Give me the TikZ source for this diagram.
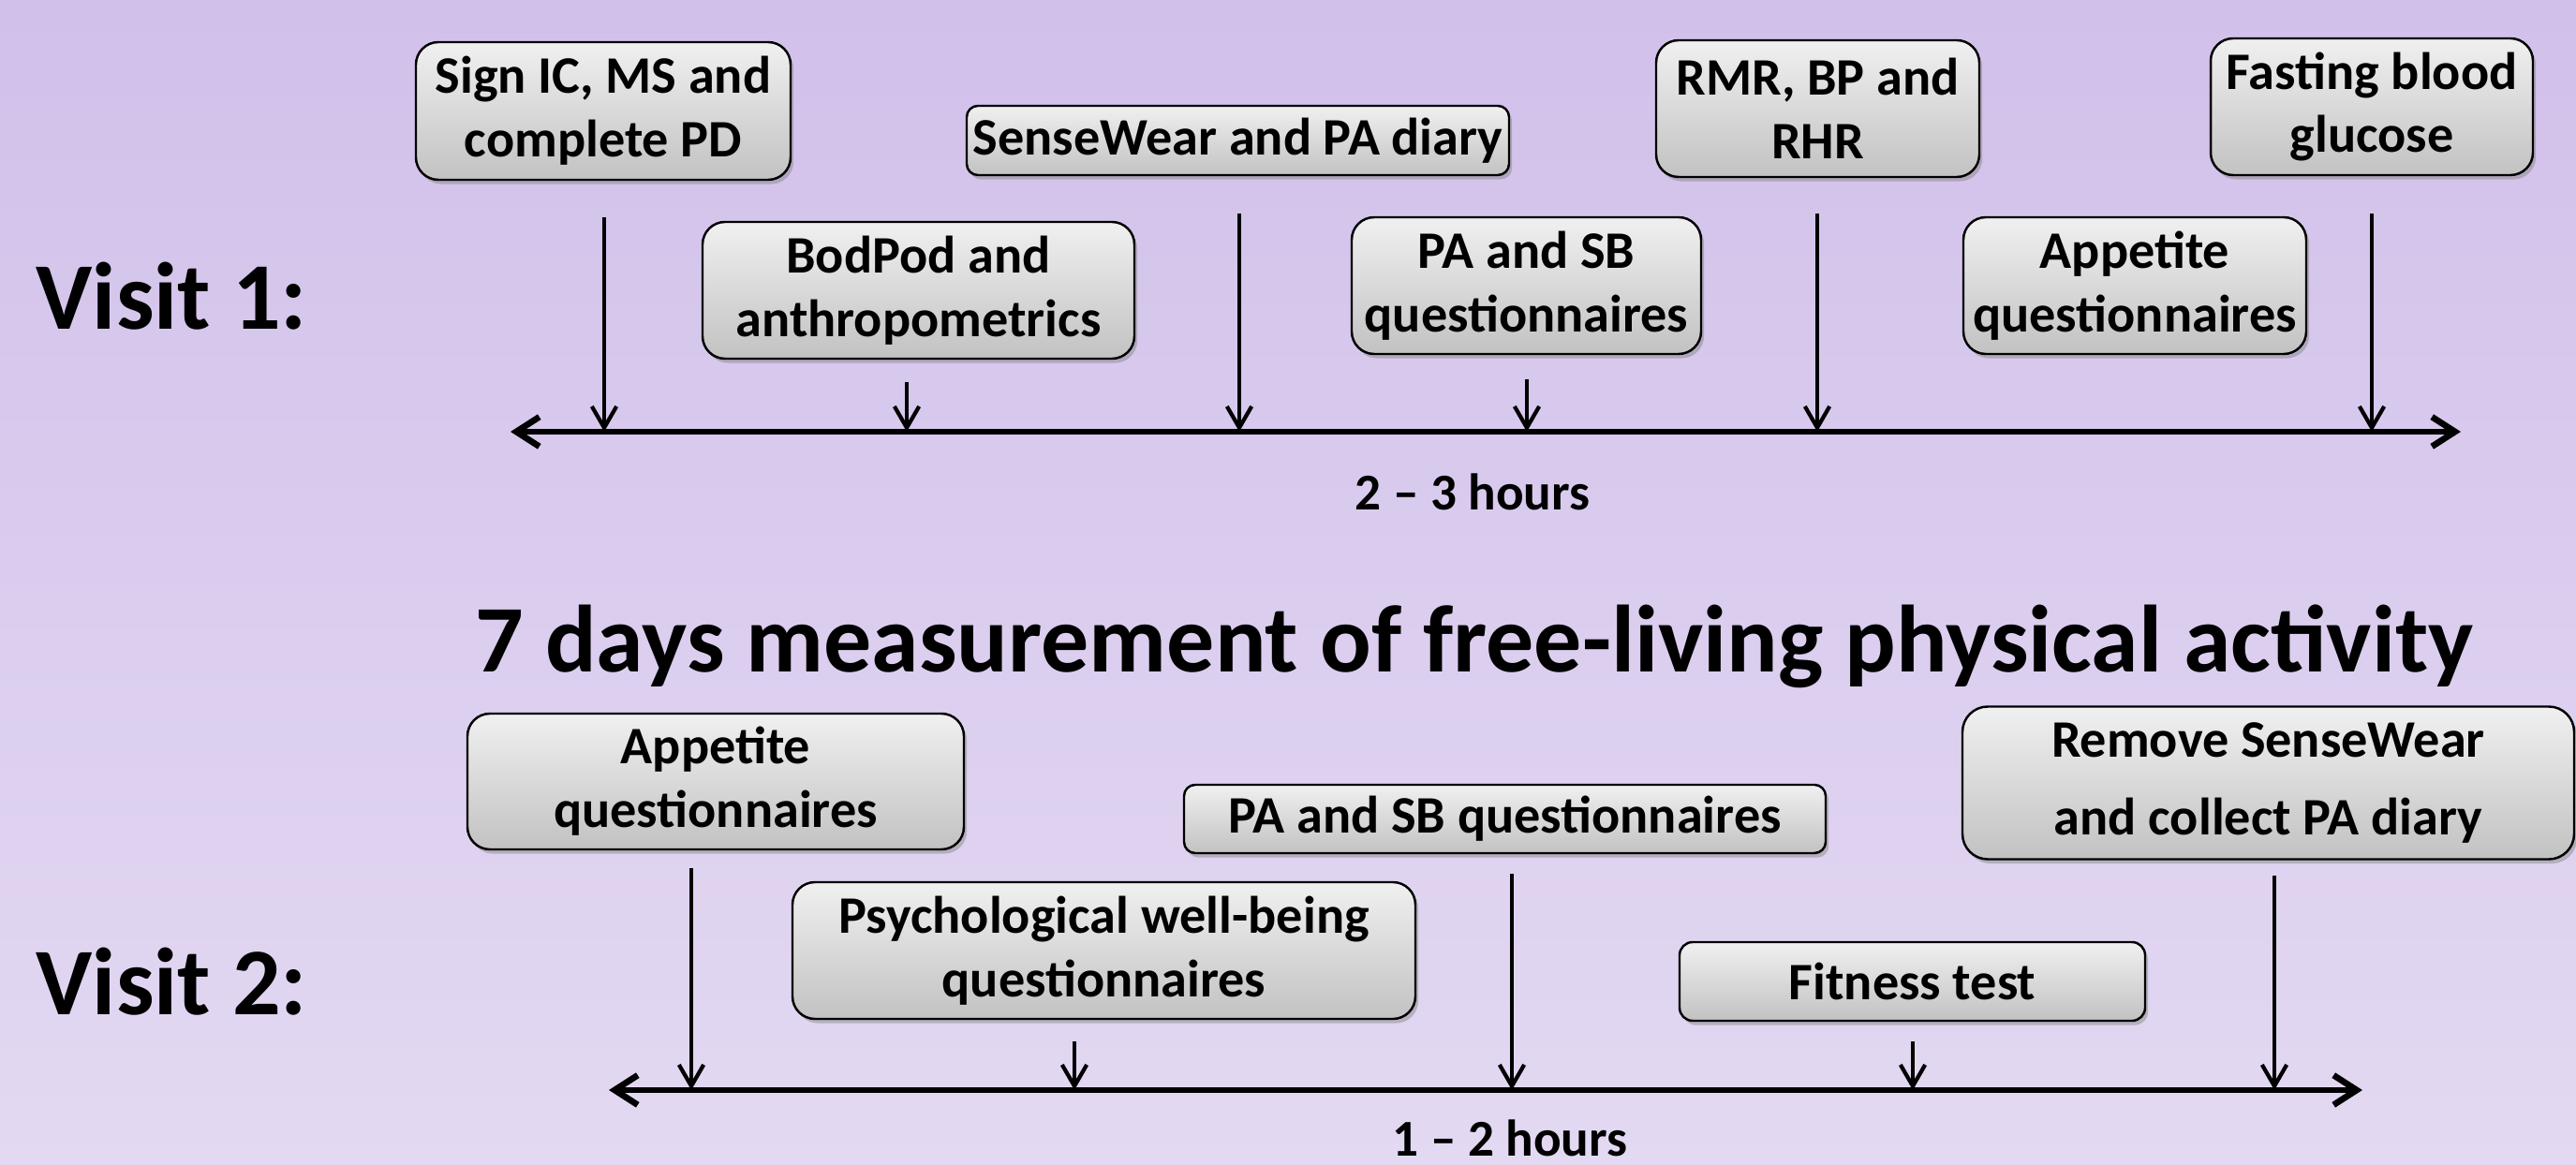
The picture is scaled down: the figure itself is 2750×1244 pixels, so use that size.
\documentclass[tikz,border=0pt]{standalone}
\usepackage{fontspec}
\setmainfont{Carlito}
\usetikzlibrary{arrows.meta,shadows}
\definecolor{bgtop}{HTML}{D1C0EA}
\definecolor{bgbot}{HTML}{E3D9F2}
\definecolor{boxtop}{HTML}{F0F0F0}
\definecolor{boxbot}{HTML}{C2C2C2}
\begin{document}
\begin{tikzpicture}[x=0.1mm,y=-0.1mm,
  box/.style={draw=black, line width=0.7pt, top color=boxtop, bottom color=boxbot,
    drop shadow={shadow xshift=0.9pt, shadow yshift=-1.3pt, opacity=0.45},
    align=center, inner sep=0pt, font=\bfseries\fontsize{16}{19.3}\selectfont},
  varrow/.style={line width=1.2pt, -{Straight Barb[length=6.5pt,width=7.5pt]}},
  axisline/.style={line width=1.9pt, {Straight Barb[length=7pt,width=9pt]}-{Straight Barb[length=7pt,width=9pt]}},
  big/.style={inner sep=0pt, font=\bfseries\fontsize{29}{35}\selectfont},
  hrs/.style={inner sep=0pt, font=\bfseries\fontsize{15.7}{19}\selectfont}
]
\useasboundingbox (0,0) rectangle (2750,1244);
\shade[top color=bgtop, bottom color=bgbot] (0,0) rectangle (2750,1244);

% ---------- Visit 1 ----------
\node[big, anchor=base west] (v1) at (38,352) {Visit 1:};

\node[box, minimum width=40mm, minimum height=14.7mm, rounded corners=2.4mm] (sign) at (644,118.5) {Sign IC, MS and\\complete PD};
\node[box, minimum width=57.9mm, minimum height=7.4mm, rounded corners=1.2mm] (sense) at (1321.5,150) {SenseWear and PA diary};
\node[box, minimum width=46.1mm, minimum height=14.6mm, rounded corners=2.4mm] (bod) at (980.5,310) {BodPod and\\anthropometrics};
\node[box, minimum width=34.5mm, minimum height=14.6mm, rounded corners=2.4mm] (rmr) at (1940.5,116) {RMR, BP and\\RHR};
\node[box, minimum width=34.4mm, minimum height=14.6mm, rounded corners=2.4mm] (fast) at (2532,114) {Fasting blood\\glucose};
\node[box, minimum width=37.3mm, minimum height=14.6mm, rounded corners=2.4mm] (pasba) at (1629.5,305) {PA and SB\\questionnaires};
\node[box, minimum width=36.6mm, minimum height=14.6mm, rounded corners=2.4mm] (appa) at (2279,305) {Appetite\\questionnaires};

\coordinate (axaL) at (545,461);
\coordinate (axaR) at (2627,461);
\draw[axisline] (axaL) -- (axaR);

\coordinate (ta1) at (645,232);
\coordinate (ta2) at (968,408);
\coordinate (ta3) at (1323,228);
\coordinate (ta4) at (1630,405);
\coordinate (ta5) at (1940,228);
\coordinate (ta6) at (2532,228);
\foreach \t in {ta1,ta2,ta3,ta4,ta5,ta6}{
  \draw[varrow] (\t) -- (\t |- axaL);
}
\node[hrs, anchor=base] (hrsa) at (1572,545) {2 -- 3 hours};

% ---------- Title ----------
\node[big, anchor=base] (title) at (1574,718) {7 days measurement of free-living physical activity};

% ---------- Visit 2 ----------
\node[big, anchor=base west] (v2) at (38,1084) {Visit 2:};

\node[box, minimum width=53mm, minimum height=14.5mm, rounded corners=2.4mm] (appb) at (764,834.5) {Appetite\\questionnaires};
\node[box, minimum width=68.5mm, minimum height=7.3mm, rounded corners=1.2mm] (pasbb) at (1606.5,874.5) {PA and SB questionnaires};
\node[box, minimum width=66.5mm, minimum height=14.6mm, rounded corners=2.4mm] (psy) at (1178.5,1015) {Psychological well-being\\questionnaires};
\node[box, minimum width=49.7mm, minimum height=8.4mm, rounded corners=1.4mm] (fit) at (2041.5,1048) {Fitness test};
\node[box, minimum width=65.3mm, minimum height=16.3mm, rounded corners=2.7mm, font=\bfseries\fontsize{16}{23.6}\selectfont] (rem) at (2421.5,836) {Remove SenseWear\\and collect PA diary};

\coordinate (axbL) at (650,1164);
\coordinate (axbR) at (2522,1164);
\draw[axisline] (axbL) -- (axbR);

\coordinate (tb1) at (738,927);
\coordinate (tb2) at (1147,1112);
\coordinate (tb3) at (1614,933);
\coordinate (tb4) at (2042,1112);
\coordinate (tb5) at (2428,935);
\foreach \t in {tb1,tb2,tb3,tb4,tb5}{
  \draw[varrow] (\t) -- (\t |- axbL);
}
\node[hrs, anchor=base] (hrsb) at (1612,1235) {1 -- 2 hours};
\end{tikzpicture}
\end{document}
